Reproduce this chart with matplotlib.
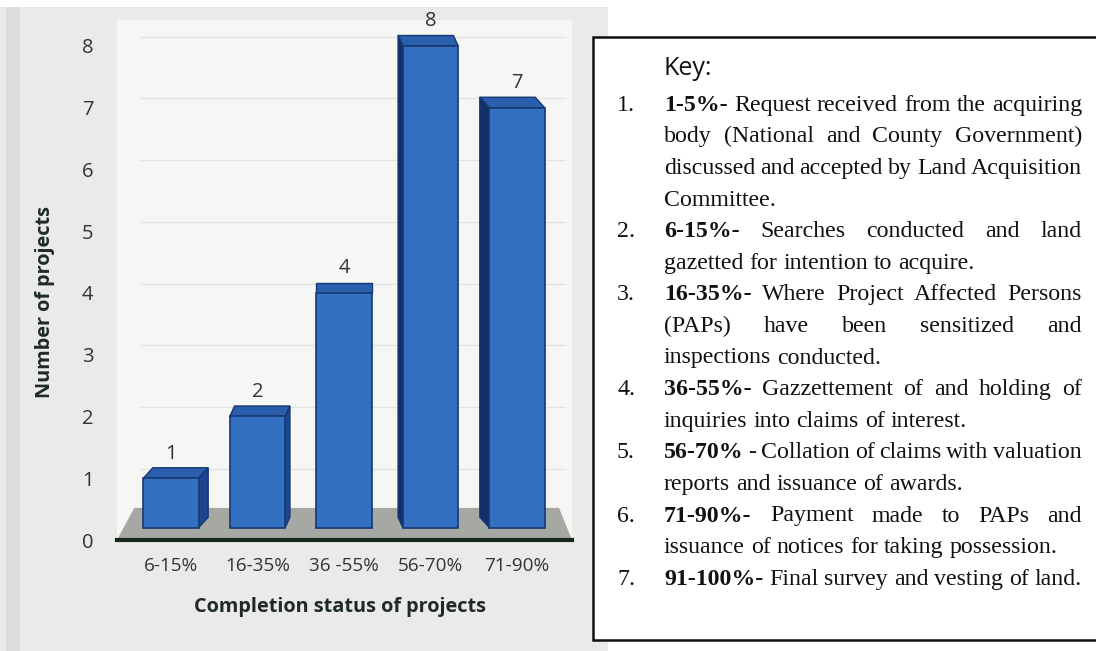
import numpy as np
import matplotlib
matplotlib.use("Agg")
import matplotlib.pyplot as plt
from matplotlib.patches import Polygon, Rectangle

# data
categories = ["6-15%", "16-35%", "36 -55%", "56-70%", "71-90%"]
projects = [1, 2, 4, 8, 7]
yticks = [0, 1, 2, 3, 4, 5, 6, 7, 8]

key_title = "Key:"
key_numbers = ["1.", "2.", "3.", "4.", "5.", "6.", "7."]
key_bold = ["1-5%-", "6-15%-", "16-35%-", "36-55%-", "56-70%", "71-90%-", "91-100%-"]
key_lines = [
    ["Request received from the acquiring",
     "body (National and County Government)",
     "discussed and accepted by Land Acquisition",
     "Committee."],
    ["Searches conducted and land",
     "gazetted for intention to acquire."],
    ["Where Project Affected Persons",
     "(PAPs) have been sensitized and",
     "inspections conducted."],
    ["Gazzettement of and holding of",
     "inquiries into claims of interest."],
    ["- Collation of claims with valuation",
     "reports and issuance of awards."],
    ["Payment made to PAPs and",
     "issuance of notices for taking possession."],
    ["Final survey and vesting of land."],
]

W, H = 1096, 651
fig = plt.figure(figsize=(W / 100, H / 100), dpi=100)
fig.patch.set_facecolor("white")

def fx(px):
    return px / W

def fy(py):
    return 1 - py / H

# grey background of the chart screenshot
fig.patches.append(Rectangle((0, 0), fx(608), fy(7), transform=fig.transFigure,
                             facecolor="#eaebe9", edgecolor="none", zorder=-3))
fig.patches.append(Rectangle((fx(6), 0), fx(14), fy(7), transform=fig.transFigure,
                             facecolor="#dddedc", edgecolor="none", zorder=-2))

# chart axes: 0 at y=540px, 8 at y=46px
unit = (540 - 46) / 8
ax_bottom, ax_top = 540, 20
ax_left, ax_right = 117, 572
ax = fig.add_axes([fx(ax_left), fy(ax_bottom), (ax_right - ax_left) / W, (ax_bottom - ax_top) / H])
ax.set_zorder(1)
ax.set_facecolor("#f6f6f5")
step = 86.5
x0 = 171
ax.set_xlim((ax_left - x0) / step, (ax_right - x0) / step)
ax.set_ylim(0, (ax_bottom - ax_top) / unit)

for s in ["top", "right", "left"]:
    ax.spines[s].set_visible(False)
ax.spines["bottom"].set_color("#17261c")
ax.spines["bottom"].set_linewidth(3)
ax.spines["bottom"].set_zorder(6)

# faint grid
for t in yticks[1:]:
    ax.plot([-0.35, 4.55], [t + 0.15, t + 0.15], color="#e2e2e0", lw=0.9, zorder=1)

# floor
xl, xr = ax.get_xlim()
floor = Polygon([(xl, 0), (xr, 0), (xr - 0.15, 0.52), (xl + 0.2, 0.52)],
                closed=True, facecolor="#a6a8a3", edgecolor="none", zorder=2)
ax.add_patch(floor)

x = np.arange(len(categories))
base = 0.2
width = 0.64
front = "#3370c2"
edge = "#173872"
bars = ax.bar(x, np.array(projects) - base, bottom=base, width=width,
              color=front, edgecolor=edge, linewidth=1.2, zorder=4)

# pseudo 3d: side and top faces
dy = 0.17
for xi, v in zip(x, projects):
    dx = (2 - xi) * 0.055
    l, r = xi - width / 2, xi + width / 2
    top = Polygon([(l, v), (r, v), (r + dx, v + dy), (l + dx, v + dy)], closed=True,
                  facecolor="#2a5fae", edgecolor=edge, linewidth=1.0, zorder=3)
    ax.add_patch(top)
    if dx > 0:
        side = Polygon([(r, base), (r + dx, base + dy), (r + dx, v + dy), (r, v)], closed=True,
                       facecolor="#1d4690", edgecolor=edge, linewidth=1.0, zorder=3)
        ax.add_patch(side)
    elif dx < 0:
        side = Polygon([(l, base), (l + dx, base + dy), (l + dx, v + dy), (l, v)], closed=True,
                       facecolor="#142f66", edgecolor=edge, linewidth=1.0, zorder=3)
        ax.add_patch(side)
    ax.text(xi, v + 0.4, str(v), ha="center", va="center", fontsize=14.5,
            family="Open Sans", color="#333333", zorder=5)

ax.set_yticks(yticks)
ax.set_yticklabels([str(t) for t in yticks], family="Open Sans", fontsize=14.5, color="#333333")
ax.set_xticks(x)
ax.set_xticklabels(categories, family="Open Sans", fontsize=13.6, color="#333333")
ax.tick_params(axis="y", length=0, pad=17)
ax.tick_params(axis="x", length=0, pad=12)

ax.set_xlabel("Completion status of projects", family="Open Sans", fontsize=14.3,
              fontweight="bold", color="#1f2a24")
ax.xaxis.set_label_coords((340 - ax_left) / (ax_right - ax_left), (ax_bottom - 597) / (ax_bottom - ax_top))
ax.set_ylabel("Number of projects", family="Open Sans", fontsize=14.3,
              fontweight="bold", color="#1f2a24")
ax.yaxis.set_label_coords((55 - ax_left) / (ax_right - ax_left), (ax_bottom - 302) / (ax_bottom - ax_top))

# key box
fig.patches.append(Rectangle((fx(593), fy(640)), fx(1100) - fx(593), fy(37) - fy(640),
                             transform=fig.transFigure, facecolor="white",
                             edgecolor="#111111", linewidth=1.8, zorder=2))
fig.text(fx(664), fy(75), key_title, family="Open Sans", fontsize=18, color="#111111",
         va="baseline", ha="left", zorder=3)

renderer = fig.canvas.get_renderer()
serif = "Liberation Serif"
fs = 17.2
left_px, right_px = 664, 1082
base0, lstep = 110.7, 31.6

def word_width(word, bold):
    t = fig.text(0, 0, word, family=serif, fontsize=fs,
                 fontweight="bold" if bold else "normal")
    w = t.get_window_extent(renderer).width
    t.remove()
    return w

space_w = word_width("a b", False) - word_width("ab", False)

line_no = 0
for i in range(len(key_numbers)):
    for j, line in enumerate(key_lines[i]):
        yb = fy(base0 + lstep * line_no)
        if j == 0:
            fig.text(fx(617), yb, key_numbers[i], family=serif, fontsize=fs,
                     color="#111111", va="baseline", ha="left", zorder=3)
            tokens = [(key_bold[i], True)] + [(w, False) for w in line.split(" ")]
        else:
            tokens = [(w, False) for w in line.split(" ")]
        widths = [word_width(w, b) for w, b in tokens]
        last = (j == len(key_lines[i]) - 1) and len(key_lines[i]) > 1
        if last or len(tokens) == 1:
            gap = space_w
        else:
            gap = (right_px - left_px - sum(widths)) / (len(tokens) - 1)
        xp = left_px
        for (w, b), wd in zip(tokens, widths):
            fig.text(fx(xp), yb, w, family=serif, fontsize=fs, color="#111111",
                     fontweight="bold" if b else "normal", va="baseline", ha="left", zorder=3)
            xp += wd + gap
        line_no += 1

fig.savefig("out.png", dpi=100)
